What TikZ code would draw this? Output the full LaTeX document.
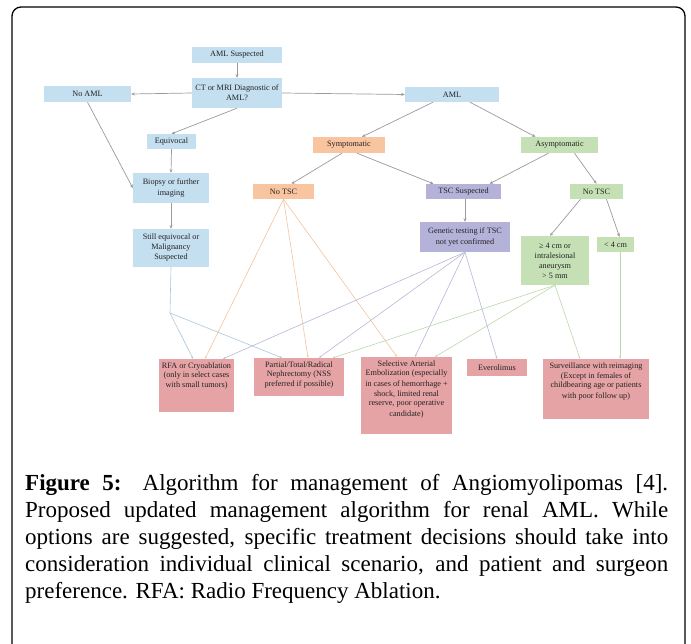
\documentclass[tikz,border=0pt]{standalone}
\usepackage{fontspec}
\setmainfont{Liberation Serif}
\usetikzlibrary{arrows.meta}
\definecolor{bxblue}{HTML}{C4DFF0}
\definecolor{bxorange}{HTML}{F9C4A0}
\definecolor{bxgreen}{HTML}{C6E0B5}
\definecolor{bxpurple}{HTML}{B5B2D9}
\definecolor{bxred}{HTML}{E6A3A5}
\definecolor{lnblue}{HTML}{A9C6DB}
\definecolor{lnorange}{HTML}{F3C39E}
\definecolor{lnpurple}{HTML}{B7B6D6}
\definecolor{lngreen}{HTML}{BCD6AC}
\definecolor{lngray}{HTML}{9A9A9A}
\definecolor{txtcol}{HTML}{222222}
\newcommand\mytopbox[3]{\parbox[c][#1][t]{#2}{\centering\rule{0pt}{9pt}#3}}
\begin{document}
\begin{tikzpicture}[x=1pt,y=-1pt,
  box/.style={rectangle, inner sep=0pt, align=center, text=txtcol,
    font=\fontsize{8.2}{10}\selectfont},
  conn/.style={draw=lngray, line width=0.7pt, -{Stealth[length=3.5pt,width=3pt]}},
  lb/.style={draw=lnblue, line width=0.6pt},
  lbA/.style={lb, -{Stealth[length=2.5pt,width=2pt]}},
  lo/.style={draw=lnorange, line width=0.6pt, -{Stealth[length=2.5pt,width=2pt]}},
  lp/.style={draw=lnpurple, line width=0.6pt, -{Stealth[length=2.5pt,width=2pt]}},
  lg/.style={draw=lngreen, line width=0.6pt, -{Stealth[length=2.5pt,width=2pt]}}]
\useasboundingbox (0,0) rectangle (691,644);
\draw[line width=1.3pt, rounded corners=9pt] (12,650) -- (12,7) -- (685,7) -- (685,650);

% top level
\node[box, fill=bxblue, minimum width=90pt, minimum height=16pt] (sus) at (237,55) {AML Suspected};
\node[box, fill=bxblue, minimum width=90pt, minimum height=30pt] (ct) at (237,93) {CT or MRI Diagnostic of\\AML?};
\node[box, fill=bxblue, minimum width=87pt, minimum height=16pt] (noaml) at (87.5,94) {No AML};
\node[box, fill=bxblue, minimum width=94pt, minimum height=15pt] (aml) at (452,94.5) {AML};
\node[box, fill=bxblue, minimum width=49pt, minimum height=15pt] (equiv) at (171.5,141.5) {Equivocal};
\node[box, fill=bxorange, minimum width=72pt, minimum height=16pt] (sym) at (349,145) {Symptomatic};
\node[box, fill=bxgreen, minimum width=77pt, minimum height=16pt] (asym) at (559.5,145) {Asymptomatic};
\node[box, fill=bxblue, minimum width=76pt, minimum height=30pt] (biopsy) at (171,188) {Biopsy or further\\imaging};
\node[box, fill=bxblue, minimum width=76pt, minimum height=38pt] (still) at (171,248) {Still equivocal or\\Malignancy\\Suspected};
\node[box, fill=bxorange, minimum width=61pt, minimum height=15pt] (notscA) at (283.5,191.5) {No TSC};
\node[box, fill=bxpurple, minimum width=75pt, minimum height=15pt] (tscs) at (463.5,191.5) {TSC Suspected};
\node[box, fill=bxgreen, minimum width=53pt, minimum height=15pt] (notscB) at (596.5,191.5) {No TSC};
\node[box, fill=bxpurple, minimum width=90pt, minimum height=30pt] (gen) at (465,237) {Genetic testing if TSC\\not yet confirmed};
\node[box, fill=bxgreen, minimum width=68pt, minimum height=49pt] (ge4) at (555,260.5) {≥ 4 cm or\\intralesional\\aneurysm\\> 5 mm};
\node[box, fill=bxgreen, minimum width=37pt, minimum height=15pt] (lt4) at (615.5,244.5) {< 4 cm};

% bottom treatments
\node[box, fill=bxred] (rfa) at (196.5,385.5) {\mytopbox{53pt}{75pt}{RFA or Cryoablation\\(only in select cases\\with small tumors)}};
\node[box, fill=bxred] (neph) at (299,377) {\mytopbox{38pt}{90pt}{Partial/Total/Radical\\Nephrectomy (NSS\\preferred if possible)}};
\node[box, fill=bxred] (sel) at (406.5,395.5) {\mytopbox{77pt}{91pt}{Selective Arterial\\Embolization (especially\\in cases of hemorrhage +\\shock, limited renal\\reserve, poor operative\\candidate)}};
\node[box, fill=bxred, minimum width=60pt, minimum height=17pt] (evero) at (497,367.5) {Everolimus};
\node[box, fill=bxred] (surv) at (596,389) {\mytopbox{60pt}{106pt}{Surveillance with reimaging\\(Except in females of\\childbearing age or patients\\with poor follow up)}};

% top connectors
\draw[conn] (sus.south) -- (ct.north);
\draw[conn] (ct.west) -- (noaml.east);
\draw[conn] (ct.east) -- (aml.west);
\draw[conn] (ct.south) -- (equiv.north);
\draw[conn] (noaml.south) -- (biopsy.west);
\draw[conn] (equiv.south) -- (biopsy.north);
\draw[conn] (biopsy.south) -- (still.north);
\draw[conn] ([xshift=-19pt]aml.south) -- ([xshift=13pt]sym.north);
\draw[conn] ([xshift=18pt]aml.south) -- ([xshift=-24pt]asym.north);
\draw[conn] ([xshift=-7pt]sym.south) -- ([xshift=8pt]notscA.north);
\draw[conn] ([xshift=8pt]sym.south) -- ([xshift=-30pt]tscs.north);
\draw[conn] ([xshift=-11pt]asym.south) -- ([xshift=26pt]tscs.north);
\draw[conn] ([xshift=15pt]asym.south) -- (notscB.north);
\draw[conn] (gen.north |- tscs.south) -- (gen.north);
\draw[conn] ([xshift=-16pt]notscB.south) -- ([xshift=-5pt]ge4.north);
\draw[conn] ([xshift=10pt]notscB.south) -- ([xshift=4pt]lt4.north);

% bottom connectors
\coordinate (j) at (170,313);
\draw[lb] (still.south) -- (j);
\draw[lbA] (j) -- ([xshift=-3.5pt]rfa.north);
\draw[lbA] (j) -- ([xshift=-17pt]neph.north);
\draw[lo] (notscA.south) -- ([xshift=8.5pt]rfa.north);
\draw[lo] (notscA.south) -- ([xshift=9pt]neph.north);
\draw[lo] (notscA.south) -- ([xshift=-9.5pt]sel.north);
\draw[lp] (gen.south) -- ([xshift=26.5pt]rfa.north);
\draw[lp] (gen.south) -- ([xshift=20pt]neph.north);
\draw[lp] (gen.south) -- ([xshift=8.5pt]sel.north);
\draw[lp] (gen.south) -- (evero.north);
\draw[lg] (ge4.south) -- ([xshift=34pt]neph.north);
\draw[lg] (ge4.south) -- ([xshift=28.5pt]sel.north);
\draw[lg] (ge4.south) -- ([xshift=-16pt]surv.north);
\draw[lg] ([xshift=4.5pt]lt4.south) -- ([xshift=24pt]surv.north);

% caption
\node[anchor=base west, inner sep=0pt] (cap) at (25,490) {\parbox[t]{643pt}{\fontsize{23}{27.2}\selectfont
\textbf{Figure 5:} Algorithm for management of Angiomyolipomas [4].\linebreak
Proposed updated management algorithm for renal AML. While\linebreak
options are suggested, specific treatment decisions should take into\linebreak
consideration individual clinical scenario, and patient and surgeon\linebreak
preference. RFA: Radio Frequency Ablation.}};
\end{tikzpicture}
\end{document}
